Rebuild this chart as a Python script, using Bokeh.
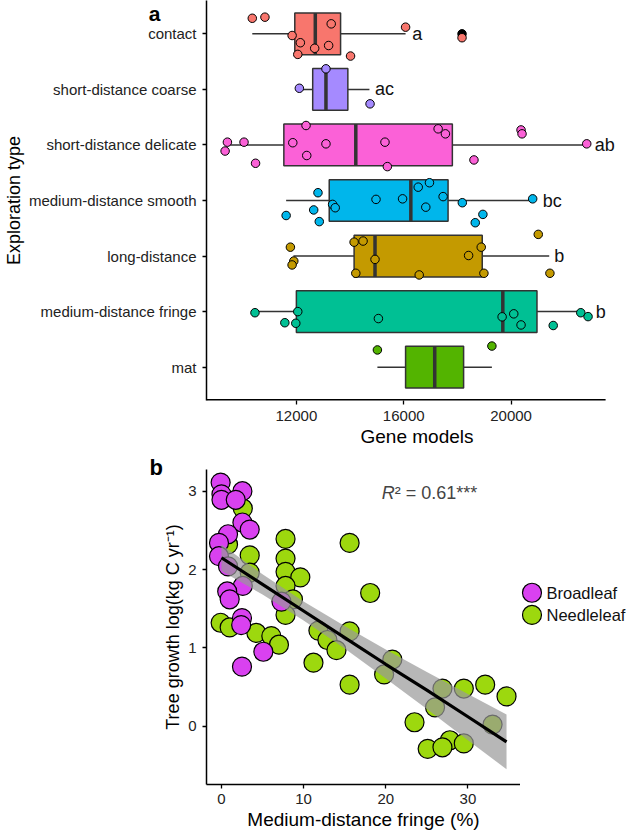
from bokeh.plotting import figure
from bokeh.models import FixedTicker, Label, Range1d, GridBox
from bokeh.layouts import column
from bokeh.embed import file_html
from bokeh.resources import INLINE
from bokeh.core.properties import value

FONT = "Liberation Sans"

# ---------------- Panel a data ----------------
categories = ["contact", "short-distance coarse", "short-distance delicate",
              "medium-distance smooth", "long-distance", "medium-distance fringe", "mat"]
cat_colors = ["#F8766D", "#A58AFF", "#FB61D7", "#00B6EB", "#C49A00", "#00C094", "#53B400"]
q1 = [11941, 12608, 11533, 13224, 14151, 12000, 16069]
median = [12705, 13102, 14214, 16265, 14930, 19692, 17155]
q3 = [13647, 13918, 17812, 17652, 18925, 20965, 18231]
whisker_lo = [10357, 12111, 9344, 11618, 11890, 10457, 15019]
whisker_hi = [16069, 14722, 22819, 20805, 21421, 22597, 19285]
letters = ["a", "ac", "ab", "bc", "b", "b", ""]
letter_x = [16317, 14930, 23116, 21176, 21606, 23153, 0]
outlier_cat = ["contact"]
outlier_val = [18172]

contact_vals = [10357, 10828, 16069, 13298, 11841, 12148, 12682, 13202, 12052, 14018, 18172]
contact_jit = [0.28, 0.30, 0.12, 0.18, -0.03, -0.16, -0.26, -0.21, -0.37, -0.40, -0.07]
coarse_vals = [13102, 12111, 14745]
coarse_jit = [0.37, 0.02, -0.26]
delicate_vals = [9430, 9344, 10049, 10479, 12360, 11866, 13102, 12386, 15301, 15390,
                 17282, 17553, 18617, 20371, 20408, 22819]
delicate_jit = [0.05, -0.11, 0.05, -0.33, 0.35, 0.04, 0.02, -0.19, 0.05, -0.39,
                0.29, 0.20, -0.27, 0.27, 0.20, 0.02]
smooth_vals = [12805, 14967, 15957, 16540, 16959, 17467, 18183, 20805, 13350, 13447,
               11618, 12645, 12853, 16822, 18950, 18665]
smooth_jit = [0.14, 0.02, 0.03, 0.24, 0.32, 0.07, -0.04, 0.03, -0.07, -0.13,
              -0.27, -0.17, -0.38, -0.12, -0.25, -0.40]
long_vals = [11777, 11904, 11840, 14151, 14485, 14930, 14214, 16577, 18417, 18888,
             18988, 21013, 21447]
long_jit = [0.16, -0.09, -0.16, 0.25, 0.27, -0.06, -0.31, -0.34, 0.01, 0.16,
            -0.31, 0.39, -0.31]
fringe_vals = [10457, 12052, 11570, 11978, 15056, 19666, 20100, 20371, 21570, 22597, 22868]
fringe_jit = [-0.02, 0.0, -0.20, -0.21, -0.125, -0.094, -0.04, -0.24, -0.25, -0.02, -0.09]
mat_vals = [15019, 19285]
mat_jit = [0.31, 0.38]

group_vals = [contact_vals, coarse_vals, delicate_vals, smooth_vals, long_vals, fringe_vals, mat_vals]
group_jit = [contact_jit, coarse_jit, delicate_jit, smooth_jit, long_jit, fringe_jit, mat_jit]

gene_ticks = [12000, 16000, 20000]
gene_axis = [8651, 23522]          # visible extent of the x axis line

# ---------------- Panel b data ----------------
broad_x = [-0.1, 0.0, 0.0, 2.55, 1.74, 2.55, 3.44, 0.8, -0.3, -0.3, 0.8, 2.6, 0.7, 1.0,
           2.5, 2.4, 5.1, 2.5, 7.3]
broad_y = [3.11, 2.96, 2.89, 3.00, 2.89, 2.60, 2.51, 2.45, 2.34, 2.17, 2.04, 1.79, 1.72, 1.62,
           1.38, 1.29, 0.95, 0.76, 1.59]
needle_x = [2.6, 0.8, 3.44, 3.44, 7.8, 7.8, 7.8, 9.6, 7.8, 8.7, 7.8, 15.6, 18.1, -0.1, 1.0,
            4.25, 6.07, 7.0, 11.8, 12.9, 14.0, 15.6, 11.2, 15.6, 20.8, 19.8, 26.9, 29.5,
            32.1, 34.7, 26.0, 23.5, 33.0, 27.8, 25.1, 26.9, 29.5]
needle_y = [2.78, 2.32, 2.18, 1.96, 2.39, 2.14, 1.97, 1.90, 1.79, 1.62, 1.42, 2.34, 1.70, 1.32,
            1.26, 1.19, 1.15, 1.04, 1.22, 1.10, 0.97, 1.21, 0.81, 0.53, 0.85, 0.66, 0.48, 0.48,
            0.53, 0.38, 0.24, 0.05, 0.02, -0.18, -0.29, -0.27, -0.22]
fit_x = [0, 5, 10, 15, 20, 25, 30, 34.7]
fit_y = [2.15, 1.81, 1.47, 1.13, 0.79, 0.46, 0.12, -0.20]
fit_upper = [2.32, 1.94, 1.59, 1.28, 0.98, 0.69, 0.41, 0.15]
fit_lower = [1.98, 1.68, 1.35, 0.99, 0.61, 0.22, -0.18, -0.55]
fringe_ticks = [0, 10, 20, 30]
growth_ticks = [0, 1, 2, 3]
legend_labels = ["Broadleaf", "Needleleaf"]
BROAD = "#D941F0"
NEEDLE = "#9DD80E"


def style_axis(ax, label_size, title_size):
    ax.axis_line_color = "black"
    ax.axis_line_width = 1.5
    ax.major_tick_line_color = "black"
    ax.major_tick_line_width = 1.3
    ax.major_tick_out = 4
    ax.major_tick_in = 0
    ax.minor_tick_line_color = None
    ax.major_label_text_font = FONT
    ax.major_label_text_font_size = label_size
    ax.major_label_text_color = "#222222"
    ax.major_label_standoff = 6
    ax.axis_label_text_font = FONT
    ax.axis_label_text_font_size = title_size
    ax.axis_label_text_font_style = "normal"
    ax.axis_label_text_color = "black"
    ax.axis_label_standoff = 2


def overlay(width, height, x, y, tag, size):
    """Transparent figure laid over a panel, carrying its bold panel tag (pixel coordinates)."""
    o = figure(width=width, height=height, x_range=Range1d(0, width), y_range=Range1d(0, height),
               output_backend="svg", toolbar_location=None, x_axis_type=None, y_axis_type=None,
               min_border_left=0, min_border_right=0, min_border_top=0, min_border_bottom=0)
    try:
        o.frame_align = False
    except Exception:
        pass
    o.grid.visible = False
    o.outline_line_color = None
    o.background_fill_color = None
    o.border_fill_color = None
    o.text(x=[x], y=[height - y], text=[tag], text_font=value(FONT), text_font_size=size,
           text_font_style="bold", text_align="center", text_baseline="alphabetic",
           text_color="black")
    return o


# ---------------- Panel a ----------------
n = len(categories)
cat_y = [n - i for i in range(n)]

W = 629
HA = 454
HB = 379
WB = 520
pa = figure(width=W, height=HA, x_range=Range1d(8651, 24338), y_range=Range1d(0.4, 7.6),
            output_backend="svg", toolbar_location=None,
            min_border_left=204, min_border_right=2, min_border_top=0, min_border_bottom=54)
pa.outline_line_color = None
pa.grid.visible = False

style_axis(pa.xaxis[0], "15px", "19px")
style_axis(pa.yaxis[0], "15px", "18px")
pa.xaxis.ticker = FixedTicker(ticks=gene_ticks)
pa.xaxis.axis_label = "Gene models"
pa.xaxis.axis_line_color = None
pa.yaxis.ticker = FixedTicker(ticks=cat_y)
pa.yaxis.major_label_overrides = {y: c for y, c in zip(cat_y, categories)}
pa.yaxis.axis_label = "Exploration type"

pa.segment(x0=[gene_axis[0]], y0=[0.4], x1=[gene_axis[1]], y1=[0.4],
           line_color="black", line_width=3)

pa.segment(x0=whisker_lo, y0=cat_y, x1=q1, y1=cat_y, line_color="#333333", line_width=1.5)
pa.segment(x0=q3, y0=cat_y, x1=whisker_hi, y1=cat_y, line_color="#333333", line_width=1.5)
pa.hbar(y=cat_y, height=0.75, left=q1, right=q3, fill_color=cat_colors,
        line_color="#333333", line_width=1.5)
pa.segment(x0=median, y0=[y - 0.375 for y in cat_y], x1=median, y1=[y + 0.375 for y in cat_y],
           line_color="#333333", line_width=3.5, line_cap="butt")
pa.scatter(x=outlier_val, y=[cat_y[categories.index(c)] for c in outlier_cat], size=8.5,
           fill_color="black", line_color="black")
for i in range(n):
    ys = [cat_y[i] + j for j in group_jit[i]]
    pa.scatter(x=group_vals[i], y=ys, size=8.5, fill_color=cat_colors[i],
               line_color="black", line_width=1)
pa.text(x=letter_x, y=cat_y, text=letters, text_font=value(FONT), text_font_size="18px",
        text_baseline="middle", text_align="left", text_color="#111111")

# ---------------- Panel b ----------------
pb = figure(width=WB, height=HB, x_range=Range1d(-1.82, 36.4), y_range=Range1d(-0.745, 3.277),
            output_backend="svg", toolbar_location=None,
            min_border_left=205, min_border_right=0, min_border_top=15, min_border_bottom=49)
pb.outline_line_color = None
pb.grid.visible = False
style_axis(pb.xaxis[0], "15px", "19px")
style_axis(pb.yaxis[0], "15px", "18px")
pb.xaxis.major_label_standoff = 5
pb.xaxis.ticker = FixedTicker(ticks=fringe_ticks)
pb.yaxis.ticker = FixedTicker(ticks=growth_ticks)
pb.xaxis.axis_label = "Medium-distance fringe (%)"
pb.yaxis.axis_label = "Tree growth log(kg C yr\u207b\u00b9)"

pb.scatter(x=needle_x, y=needle_y, size=19, fill_color=NEEDLE, line_color="black", line_width=1.2)
pb.scatter(x=broad_x, y=broad_y, size=19, fill_color=BROAD, line_color="black", line_width=1.2)
pb.varea(x=fit_x, y1=fit_lower, y2=fit_upper, fill_color="#999999", fill_alpha=0.7)
pb.line(x=fit_x, y=fit_y, line_color="black", line_width=3.2)

pb.add_layout(Label(x=21.1, y=2.98, text="R", text_font=FONT, text_font_size="18px",
                    text_font_style="italic", text_align="right", text_baseline="middle"))
pb.add_layout(Label(x=21.1, y=2.98, text="\u00b2 = 0.61***", text_font=FONT,
                    text_font_size="18px", text_align="left", text_baseline="middle"))

# ---------------- Legend panel ----------------
pl = figure(width=W - WB, height=HB, x_range=Range1d(0, W - WB), y_range=Range1d(0, HB),
            output_backend="svg", toolbar_location=None, x_axis_type=None, y_axis_type=None,
            min_border_left=0, min_border_right=0, min_border_top=0, min_border_bottom=0)
pl.grid.visible = False
pl.outline_line_color = None
leg_y = [230.7, 204]
pl.scatter(x=[11.7, 11.7], y=leg_y, size=19, fill_color=[BROAD, NEEDLE],
           line_color="black", line_width=1.2)
pl.text(x=[26.5, 26.5], y=leg_y, text=legend_labels, text_font=value(FONT),
        text_font_size="16.5px", text_baseline="middle", text_align="left", text_color="#111111")

# ---------------- transparent overlays with the panel tags ----------------
oa = overlay(W, HA, 154, 12.5, "a", "21px")
ob = overlay(WB, HB, 155.8, 12.5, "b", "22px")

layout = GridBox(children=[(pa, 0, 0, 1, 2), (pb, 1, 0, 1, 1), (pl, 1, 1, 1, 1),
                           (column(oa), 0, 0, 1, 2), (column(ob), 1, 0, 1, 1)])
open("out.html", "w").write(file_html(layout, INLINE))
